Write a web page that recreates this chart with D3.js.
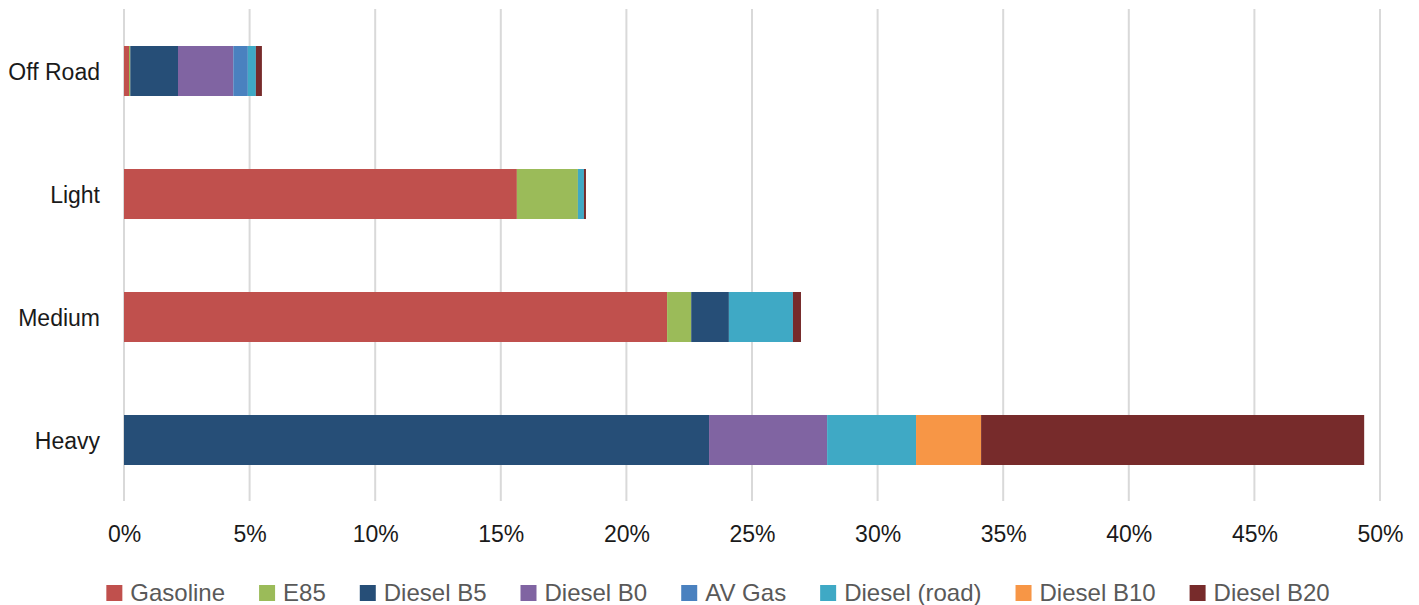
<!DOCTYPE html>
<html>
<head>
<meta charset="utf-8">
<script src="https://cdn.jsdelivr.net/npm/d3@7"></script>
<style>
  html, body { margin: 0; padding: 0; background: #fff; }
  svg { display: block; font-family: "Liberation Sans", Arial, sans-serif; }
</style>
</head>
<body>
<svg id="chart" width="1419" height="605"></svg>
<script>
// Vehicle classes, top to bottom
const categories = ["Off Road", "Light", "Medium", "Heavy"];

// Fuel types in stacking order
const fuels = ["Gasoline", "E85", "Diesel B5", "Diesel B0", "AV Gas", "Diesel (road)", "Diesel B10", "Diesel B20"];

// Share of total (%) for each fuel, in category order
const gasoline   = [0.20, 15.64, 21.62, 0];
const e85        = [0.05,  2.43,  0.96, 0];
const dieselB5   = [1.90,  0,     1.50, 23.29];
const dieselB0   = [2.20,  0,     0,     4.70];
const avGas      = [0.58,  0,     0,     0];
const dieselRoad = [0.32,  0.24,  2.55,  3.54];
const dieselB10  = [0,     0,     0,     2.59];
const dieselB20  = [0.24,  0.08,  0.32, 15.25];

const tickValues = [0, 5, 10, 15, 20, 25, 30, 35, 40, 45, 50];

const colors = ["#C0504D", "#9BBB59", "#264E77", "#8064A2", "#4A81BF", "#3FA9C5", "#F79646", "#772B2B"];

const seriesValues = [gasoline, e85, dieselB5, dieselB0, avGas, dieselRoad, dieselB10, dieselB20];
const rows = categories.map((c, i) => {
  const r = { category: c };
  fuels.forEach((f, k) => { r[f] = seriesValues[k][i]; });
  return r;
});

const svg = d3.select("#chart");

const x = d3.scaleLinear().domain([0, 50]).range([124, 1380]);
const y = d3.scaleBand().domain(categories).range([9.5, 501.5])
  .paddingInner(0.5935).paddingOuter(0.5935 / 2);
const color = d3.scaleOrdinal().domain(fuels).range(colors);

// Vertical gridlines
svg.append("g")
  .selectAll("line")
  .data(tickValues)
  .join("line")
  .attr("x1", d => x(d)).attr("x2", d => x(d))
  .attr("y1", 9).attr("y2", 501)
  .attr("stroke", "#D9D9D9")
  .attr("stroke-width", 2);

// Stacked bars
const stacked = d3.stack().keys(fuels)(rows);
svg.append("g")
  .selectAll("g")
  .data(stacked)
  .join("g")
  .attr("fill", d => color(d.key))
  .selectAll("rect")
  .data(d => d)
  .join("rect")
  .attr("x", d => x(d[0]))
  .attr("y", d => y(d.data.category))
  .attr("width", d => Math.max(0, x(d[1]) - x(d[0])))
  .attr("height", y.bandwidth());

// X axis tick labels
const xAxis = d3.axisBottom(x).tickValues(tickValues).tickFormat(d => d + "%").tickSize(0).tickPadding(0);
const gx = svg.append("g").attr("transform", "translate(0,526)").call(xAxis);
gx.select(".domain").remove();
gx.selectAll("text")
  .attr("font-size", 23)
  .attr("fill", "#1a1a1a")
  .attr("font-family", "Liberation Sans, Arial, sans-serif");

// Y axis category labels
const yAxis = d3.axisLeft(y).tickSize(0).tickPadding(0);
const gy = svg.append("g").attr("transform", "translate(100,0)").call(yAxis);
gy.select(".domain").remove();
gy.selectAll("text")
  .attr("font-size", 23)
  .attr("dy", "0.38em")
  .attr("fill", "#1a1a1a")
  .attr("font-family", "Liberation Sans, Arial, sans-serif");

// Legend, laid out from measured text widths and centred
const legend = svg.append("g");
const fontSize = 24;
const sq = 16, sqGap = 8, itemGap = 34;
const items = legend.selectAll("g").data(fuels).join("g");
items.append("rect")
  .attr("width", sq).attr("height", sq)
  .attr("y", 585)
  .attr("fill", d => color(d));
items.append("text")
  .attr("x", sq + sqGap)
  .attr("y", 601)
  .attr("font-size", fontSize)
  .attr("fill", "#595959")
  .text(d => d);
let offset = 0;
const widths = [];
items.each(function () {
  const w = this.querySelector("text").getComputedTextLength();
  widths.push(sq + sqGap + w);
});
const total = d3.sum(widths) + itemGap * (widths.length - 1);
let start = 718 - total / 2;
items.attr("transform", (d, i) => {
  const t = `translate(${start + offset},0)`;
  offset += widths[i] + itemGap;
  return t;
});
</script>
</body>
</html>
